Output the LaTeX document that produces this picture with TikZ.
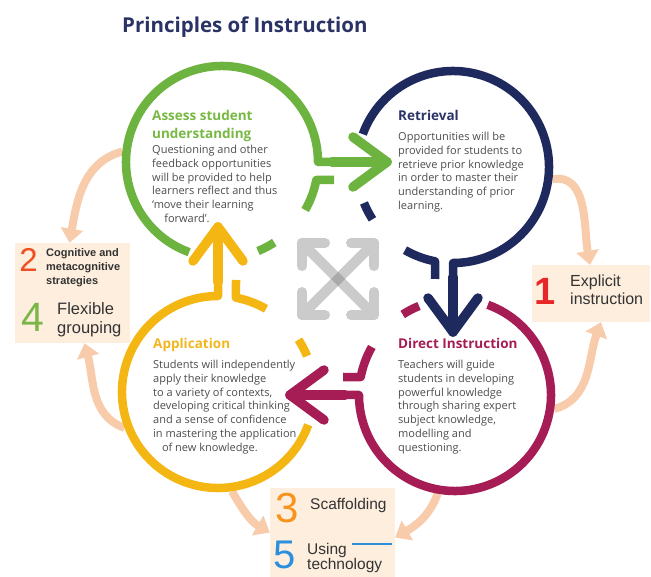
\documentclass[tikz,border=0pt]{standalone}
\usepackage{fontspec}
\setmainfont{Open Sans}
\newfontfamily\arialf{Liberation Sans}
\usetikzlibrary{arrows.meta}

\definecolor{cgreen}{HTML}{6DB33F}
\definecolor{hgreen}{HTML}{78B943}
\definecolor{cnavy}{HTML}{1E2A5E}
\definecolor{hnavy}{HTML}{2B3467}
\definecolor{cmaroon}{HTML}{A61C55}
\definecolor{cyellow}{HTML}{F4B612}
\definecolor{hyellow}{HTML}{F2B620}
\definecolor{peach}{HTML}{F8CBAA}
\definecolor{boxbg}{HTML}{FDEEDD}
\definecolor{bodytxt}{HTML}{4D4D4D}
\definecolor{sidetxt}{HTML}{333333}
\definecolor{titlec}{HTML}{2B3366}
\definecolor{iconc}{HTML}{CBCBCB}
\definecolor{icond}{HTML}{A9A9A9}
\definecolor{dred}{HTML}{F04E23}
\definecolor{dgreen}{HTML}{7AB648}
\definecolor{dred1}{HTML}{E8262A}
\definecolor{dorange}{HTML}{F7941D}
\definecolor{dblue}{HTML}{2B8FDE}

\newcommand\drawring[3]{%
  \begin{scope}[shift={(#1.center)}, rotate=#2]
    \draw[ringarc, draw=#3] (250:96) arc[start angle=250, end angle=0, radius=96] -- (125,0);
    \draw[ringhead, draw=#3] (110,0) -- (165,0);
    \draw[ringhead, draw=#3] (131,25) -- (165,0) -- (131,-25);
    \draw[ringarc, draw=#3] (112,-18) -- (-10.8:96) arc[start angle=-10.8, end angle=-30, radius=96];
    \draw[ringarc, draw=#3] (-57:96) arc[start angle=-57, end angle=-68, radius=96];
  \end{scope}}

\begin{document}
\begin{tikzpicture}[x=1pt,y=1pt,
  ringarc/.style={line width=8.5pt, line cap=butt, line join=round},
  ringhead/.style={line width=9.5pt, line cap=round, line join=round},
  hub/.style={circle, minimum size=200pt, inner sep=0pt},
  heading/.style={anchor=north west, inner sep=0pt, align=left, font=\fontsize{13.5}{18}\selectfont\bfseries},
  bodytext/.style={anchor=north west, inner sep=0pt, align=left, text=bodytxt, font=\fontsize{11}{13.8}\selectfont},
  sidebox/.style={fill=boxbg, inner sep=0pt},
  peacharrow/.style={draw=peach, line width=8pt, -{Triangle[length=14pt,width=22pt]}},
  digit/.style={inner sep=0pt, font=\arialf\fontsize{40}{40}\selectfont},
  sidelabel/.style={anchor=north west, inner sep=0pt, align=left, text=sidetxt},
  icon/.style={draw=iconc, line width=10pt, line cap=round, line join=round}
]
\fill[white] (0,0) rectangle (651,-577);
\useasboundingbox (0,0) rectangle (651,-577);

% title
\node[anchor=base west, inner sep=0pt, text=titlec, font=\fontsize{20.5}{24}\selectfont\bfseries] (title) at (122,-33) {Principles of Instruction};

% side boxes
\node[sidebox, minimum width=115pt, minimum height=100pt] (lbox) at (72.5,-293) {};
\node[sidebox, minimum width=118pt, minimum height=57pt] (rbox) at (591,-293.5) {};
\node[sidebox, minimum width=125pt, minimum height=89pt] (bbox) at (332.5,-532.5) {};

% hubs
\node[hub] (gC) at (222,-162) {};
\node[hub] (nC) at (453,-167) {};
\node[hub] (mC) at (455,-395) {};
\node[hub] (yC) at (218,-392) {};

% peach connectors
\draw[peacharrow] (gC.174) to[out=195, in=80] ([xshift=-3pt]lbox.north);
\draw[peacharrow] (yC.201) to[out=160, in=285] ([xshift=12pt]lbox.south);
\draw[peacharrow] (nC.-7) to[out=10, in=100] ([xshift=-1pt]rbox.north);
\draw[peacharrow] (mC.-8) to[out=15, in=250] ([xshift=10pt]rbox.south);
\draw[peacharrow] (yC.-82) to[out=-60, in=150] (bbox.west);
\draw[peacharrow] (mC.-100) to[out=-110, in=30] ([yshift=-5pt]bbox.east);

% rings
\drawring{gC}{0}{cgreen}
\drawring{nC}{-90}{cnavy}
\drawring{mC}{180}{cmaroon}
\drawring{yC}{90}{cyellow}

% centre icon
\begin{scope}[shift={(338,-279)}]
  \draw[icon] (-36,36) -- (36,-36);
  \draw[icon] (36,36) -- (-36,-36);
  \draw[icon] (-36,13) -- (-36,36) -- (-13,36);
  \draw[icon] (13,36) -- (36,36) -- (36,13);
  \draw[icon] (-36,-13) -- (-36,-36) -- (-13,-36);
  \draw[icon] (36,-13) -- (36,-36) -- (13,-36);
  \fill[icond] (0,7) -- (7,0) -- (0,-7) -- (-7,0) -- cycle;
\end{scope}

% circle texts
\node[heading, text=hgreen] (gH) at (152,-110) {Assess student\\understanding};
\node[bodytext] (gB) at (152,-145) {Questioning and other\\feedback opportunities\\will be provided to help\\learners reflect and thus\\‘move their learning\\\hspace*{1.1em}forward’.};

\node[heading, text=hnavy] (nH) at (398,-110) {Retrieval};
\node[bodytext] (nB) at (398,-132) {Opportunities will be\\provided for students to\\retrieve prior knowledge\\in order to master their\\understanding of prior\\learning.};

\node[heading, text=cmaroon] (mH) at (398,-338) {Direct Instruction};
\node[bodytext] (mB) at (398,-360) {Teachers will guide\\students in developing\\powerful knowledge\\through sharing expert\\subject knowledge,\\modelling and\\questioning.};

\node[heading, text=hyellow] (yH) at (153,-338) {Application};
\node[bodytext] (yB) at (153,-360) {Students will independently\\apply their knowledge\\to a variety of contexts,\\developing critical thinking\\and a sense of confidence\\in mastering the application\\\hspace*{0.8em}of new knowledge.};

% box contents
\node[digit, text=dred, font=\arialf\fontsize{33}{33}\selectfont] (d2) at (28.5,-260) {2};
\node[sidelabel, font=\arialf\bfseries\fontsize{11}{14}\selectfont] (l2) at (46,-248) {Cognitive and\\metacognitive\\strategies};
\node[digit, text=dgreen, font=\arialf\fontsize{41}{41}\selectfont] (d4) at (32.5,-317) {4};
\node[sidelabel, font=\arialf\fontsize{16.5}{19}\selectfont] (l4) at (57,-302) {Flexible\\grouping};

\node[digit, text=dred1, font=\arialf\bfseries\fontsize{38}{38}\selectfont] (d1) at (545.5,-291.5) {1};
\node[sidelabel, font=\arialf\fontsize{16}{17.5}\selectfont] (l1) at (570,-275) {Explicit\\instruction};

\node[digit, text=dorange, font=\arialf\fontsize{42}{42}\selectfont] (d3) at (287.5,-508) {3};
\node[anchor=base west, inner sep=0pt, text=sidetxt, font=\arialf\fontsize{15.5}{15.5}\selectfont] (l3) at (310,-509) {Scaffolding};
\node[digit, text=dblue, font=\arialf\fontsize{40}{40}\selectfont] (d5) at (285,-555) {5};
\node[sidelabel, font=\arialf\fontsize{15.5}{15}\selectfont] (l5) at (307,-543) {Using\\technology};
\coordinate (bl1) at (352,-544);
\coordinate (bl2) at (392,-544);
\draw[draw=dblue, line width=1.5pt] (bl1) -- (bl2);
\end{tikzpicture}
\end{document}
